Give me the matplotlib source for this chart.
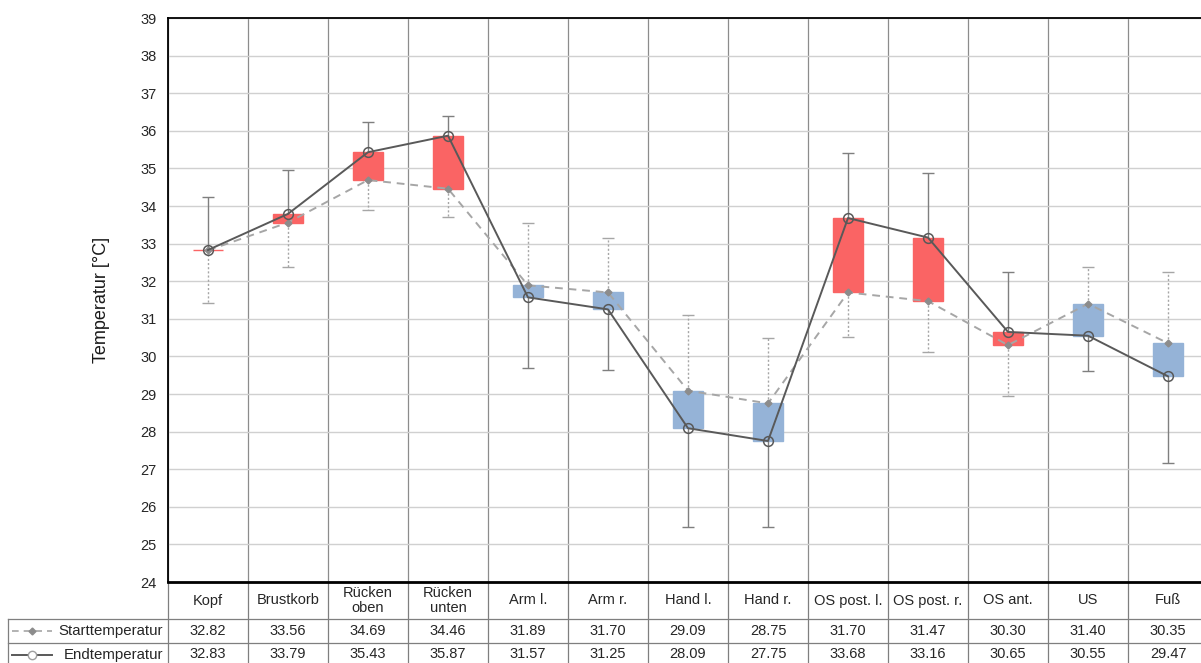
import numpy as np
import matplotlib.pyplot as plt
from matplotlib.transforms import blended_transform_factory

plt.rcParams['font.family'] = ['Liberation Sans', 'DejaVu Sans']

#---------------------------------------------------
# data
#---------------------------------------------------
categories = ["Kopf", "Brustkorb", "Rücken\noben", "Rücken\nunten", "Arm l.", "Arm r.",
              "Hand l.", "Hand r.", "OS post. l.", "OS post. r.", "OS ant.", "US", "Fuß"]
start_temp = [32.82, 33.56, 34.69, 34.46, 31.89, 31.70, 29.09, 28.75, 31.70, 31.47, 30.30, 31.40, 30.35]
end_temp = [32.83, 33.79, 35.43, 35.87, 31.57, 31.25, 28.09, 27.75, 33.68, 33.16, 30.65, 30.55, 29.47]
# one-sided error bar lengths
start_err = [1.40, 1.18, 0.80, 0.74, 1.66, 1.45, 2.01, 1.74, 1.18, 1.35, 1.35, 0.97, 1.89]
end_err = [1.42, 1.17, 0.81, 0.53, 1.88, 1.61, 2.63, 2.29, 1.74, 1.72, 1.59, 0.94, 2.31]
series_names = ["Starttemperatur", "Endtemperatur"]
y_ticks = list(range(24, 40))

#---------------------------------------------------
# plot
#---------------------------------------------------
W, H = 1201, 663
fig = plt.figure(figsize=(W / 100, H / 100), dpi=100)
ax_l, ax_r, ax_t, ax_b = 168, 1208, 18, 582
ax = fig.add_axes([ax_l / W, (H - ax_b) / H, (ax_r - ax_l) / W, (ax_b - ax_t) / H])

x = np.arange(len(categories))
start = np.array(start_temp)
end = np.array(end_temp)
rising = end >= start

# up / down bars
diff = end - start
bar_col = np.where(rising, '#FA6464', '#95B3D7')
ax.bar(x, diff, bottom=start, width=0.38, color=bar_col, edgecolor=bar_col, linewidth=1, zorder=2)

# error bars: end goes away from start, start goes away from end
s_tip = np.where(rising, start - np.array(start_err), start + np.array(start_err))
e_tip = np.where(rising, end + np.array(end_err), end - np.array(end_err))
ax.vlines(x, start, s_tip, colors='#A6A6A6', linestyles=(0, (1.5, 1.5)), linewidth=1.0, zorder=3)
ax.plot(x, s_tip, ls='none', marker='_', ms=8, mew=1.0, color='#A6A6A6', zorder=3)
ax.vlines(x, end, e_tip, colors='#7F7F7F', linewidth=1.0, zorder=3)
ax.plot(x, e_tip, ls='none', marker='_', ms=8, mew=1.0, color='#7F7F7F', zorder=3)

# lines
ax.plot(x, start, ls=(0, (4, 3)), lw=1.4, color='#A6A6A6', marker='D', ms=3.5,
        mfc='#8C8C8C', mec='#8C8C8C', zorder=4)
ax.plot(x, end, ls='-', lw=1.4, color='#595959', marker='o', ms=7,
        mfc='none', mec='#595959', mew=1.1, zorder=5)

ax.set_xlim(-0.5, len(categories) - 0.5)
ax.set_ylim(24, 39)
ax.set_yticks(y_ticks)
ax.set_yticklabels([str(t) for t in y_ticks], fontsize=10.5, color='#262626')
ax.set_xticks(np.arange(len(categories) + 1) - 0.5)
ax.set_xticklabels([])
ax.tick_params(axis='both', length=0, pad=8)
ax.grid(axis='y', color='#D0D0D0', lw=1.0)
ax.grid(axis='x', color='#8C8C8C', lw=0.9)
ax.set_axisbelow(True)
for s in ['left', 'top']:
    ax.spines[s].set_linewidth(1.3)
    ax.spines[s].set_color('black')
ax.spines['bottom'].set_linewidth(2)
ax.spines['right'].set_visible(False)
ax.set_ylabel("Temperatur [°C]", fontsize=13, labelpad=22, color='#1a1a1a')

#---------------------------------------------------
# data table
#---------------------------------------------------
px = ax_b - ax_t
tr = blended_transform_factory(ax.transData, ax.transAxes)
hdr_bot = -37 / px
start_bot = -61 / px
end_bot = -84 / px
left_ax = (8 - ax_l) / (ax_r - ax_l)
grid_c = '#7F7F7F'

for b in np.arange(len(categories) + 1) - 0.5:
    ax.plot([b, b], [0, end_bot], transform=tr, color=grid_c, lw=0.9, clip_on=False)
for yy in [hdr_bot, start_bot]:
    ax.plot([left_ax, 1], [yy, yy], transform=ax.transAxes, color=grid_c, lw=0.9, clip_on=False)
ax.plot([left_ax, left_ax], [hdr_bot, end_bot], transform=ax.transAxes, color=grid_c, lw=0.9, clip_on=False)

for i, c in enumerate(categories):
    ax.text(i, hdr_bot / 2, c, transform=tr, ha='center', va='center', fontsize=10.5,
            linespacing=1.05, color='#262626')
    ax.text(i, (hdr_bot + start_bot) / 2, f"{start_temp[i]:.2f}", transform=tr, ha='center',
            va='center', fontsize=10.5, color='#262626')
    ax.text(i, (start_bot + end_bot) / 2, f"{end_temp[i]:.2f}", transform=tr, ha='center',
            va='center', fontsize=10.5, color='#262626')

# row headers with legend keys
name_x = (163 - ax_l) / (ax_r - ax_l)
k0, k1, km = [(p - ax_l) / (ax_r - ax_l) for p in (12, 52, 32)]
for (ya, yb), name, style in zip([(hdr_bot, start_bot), (start_bot, end_bot)], series_names, ['start', 'end']):
    ym = (ya + yb) / 2
    ax.text(name_x, ym, name, transform=ax.transAxes, ha='right', va='center', fontsize=10.8, color='#262626')
    if style == 'start':
        ax.plot([k0, k1], [ym, ym], transform=ax.transAxes, ls=(0, (4, 3)), lw=1.2,
                color='#A6A6A6', clip_on=False)
        ax.plot([km], [ym], transform=ax.transAxes, marker='D', ms=3.5, color='#8C8C8C', clip_on=False)
    else:
        ax.plot([k0, k1], [ym, ym], transform=ax.transAxes, ls='-', lw=1.4,
                color='#595959', clip_on=False)
        ax.plot([km], [ym], transform=ax.transAxes, marker='o', ms=6, mfc='white',
                mec='#A0A0A0', clip_on=False)

fig.savefig("out.png", dpi=100, facecolor='white')
